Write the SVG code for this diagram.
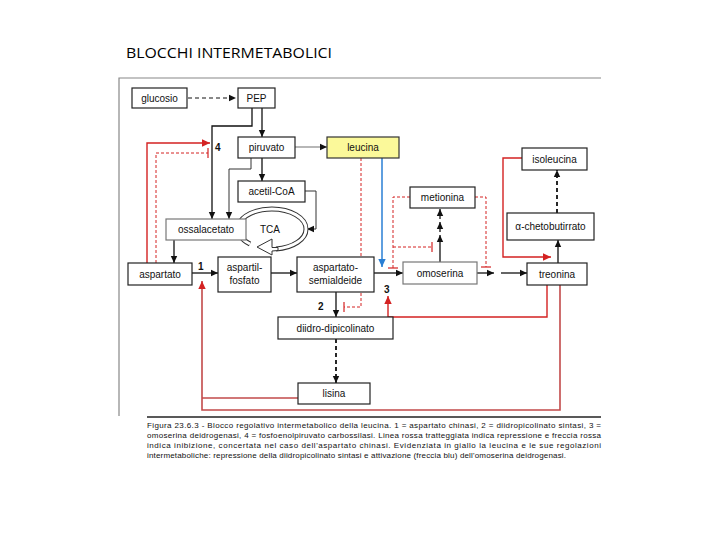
<svg xmlns="http://www.w3.org/2000/svg" width="720" height="540" viewBox="0 0 720 540">
<defs>
<style>
.box{fill:#fff;stroke:#222;stroke-width:1.2}
.gbox{fill:#fff;stroke:#777;stroke-width:1.2}
.t{font-family:"Liberation Sans",Arial,sans-serif;font-size:10px;fill:#111;text-anchor:middle}
.num{font-family:"Liberation Sans",Arial,sans-serif;font-size:10px;font-weight:bold;fill:#111}
.k{fill:none;stroke:#111;stroke-width:1.3}
.kd{fill:none;stroke:#111;stroke-width:1.8;stroke-dasharray:4 3}
.r{fill:none;stroke:#d42222;stroke-width:1.4}
.r2{fill:none;stroke:#c24a4a;stroke-width:1.6}
.rd{fill:none;stroke:#d42222;stroke-width:1;stroke-dasharray:3 2}
.rb{stroke:#d42222;stroke-width:1.2}
.cap{font-family:"Liberation Sans",Arial,sans-serif;font-size:8px;fill:#111}
</style>
<marker id="ak" markerWidth="8" markerHeight="8" refX="7" refY="4" orient="auto" markerUnits="userSpaceOnUse"><path d="M0,0.8 L7,4 L0,7.2 Z" fill="#111"/></marker>
<marker id="ar" markerWidth="9" markerHeight="9" refX="8" refY="4.5" orient="auto" markerUnits="userSpaceOnUse"><path d="M0,0.8 L8,4.5 L0,8.2 Z" fill="#d42222"/></marker>
<marker id="ab" markerWidth="9" markerHeight="9" refX="8" refY="4.5" orient="auto" markerUnits="userSpaceOnUse"><path d="M0,0.8 L8,4.5 L0,8.2 Z" fill="#2a7fd4"/></marker>
</defs>
<rect width="720" height="540" fill="#fff"/>
<text x="126" y="58" font-family="'Open Sans','Liberation Sans',sans-serif" font-size="14" fill="#000" textLength="206" lengthAdjust="spacingAndGlyphs">BLOCCHI INTERMETABOLICI</text>
<path d="M119,416 V78 H601" fill="none" stroke="#888" stroke-width="1.2"/>

<g id="connectors">
<line x1="188" y1="98" x2="236" y2="98" stroke="#111" stroke-width="1" stroke-dasharray="4 3" marker-end="url(#ak)"/>
<line x1="262" y1="108" x2="262" y2="137" class="k" marker-end="url(#ak)"/>
<polyline points="252,108 252,126 212,126 212,219" class="k" stroke-width="1.6" marker-end="url(#ak)"/>
<line x1="262" y1="158" x2="262" y2="181" class="k" marker-end="url(#ak)"/>
<polyline points="251,158 251,169 229,169 229,219" fill="none" stroke="#333" stroke-width="1" marker-end="url(#ak)"/>
<line x1="295" y1="147" x2="327" y2="147" stroke="#888" stroke-width="1.2" marker-end="url(#ak)"/>
<polyline points="305,191 316,191 316,229 307,229" fill="none" stroke="#333" stroke-width="1" marker-end="url(#ak)"/>
<!-- TCA cycle -->
<path id="tca" d="M250,244 A34,20 0 0 1 238.5,225 A34,20 0 0 1 272,209 A34,20 0 0 1 306,229 A34,20 0 0 1 276,249" fill="none" stroke="#333" stroke-width="5"/>
<path d="M250,244 A34,20 0 0 1 238.5,225 A34,20 0 0 1 272,209 A34,20 0 0 1 306,229 A34,20 0 0 1 276,249" fill="none" stroke="#fff" stroke-width="3"/>
<polygon points="272,239 257,247 272,255 272,251 278,250.5 278,247.5 272,247.5" fill="#fff" stroke="#333" stroke-width="1"/>
<line x1="174" y1="240" x2="174" y2="263" class="k" marker-end="url(#ak)"/>
<line x1="192" y1="273" x2="218" y2="273" class="k" marker-end="url(#ak)"/>
<line x1="271" y1="273" x2="297" y2="273" class="k" marker-end="url(#ak)"/>
<line x1="336" y1="292" x2="336" y2="317" class="k" stroke-width="1.6" marker-end="url(#ak)"/>
<line x1="336" y1="339" x2="336" y2="383" class="kd" marker-end="url(#ak)"/>
<line x1="374" y1="273" x2="403" y2="273" class="k" marker-end="url(#ak)"/>
<line x1="440" y1="262" x2="440" y2="235" class="k" marker-end="url(#ak)"/>
<line x1="440" y1="232" x2="440" y2="222" class="k" marker-end="url(#ak)"/>
<line x1="440" y1="219" x2="440" y2="209" class="k" marker-end="url(#ak)"/>
<line x1="477" y1="273" x2="494" y2="273" class="k" marker-end="url(#ak)"/>
<line x1="501" y1="273" x2="527" y2="273" class="k" marker-end="url(#ak)"/>
<line x1="558" y1="263" x2="558" y2="240" class="k" marker-end="url(#ak)"/>
<line x1="557" y1="213" x2="557" y2="170" class="kd" marker-end="url(#ak)"/>
<!-- leucina regulation -->
<line x1="382" y1="158" x2="382" y2="267" stroke="#2a7fd4" stroke-width="1.5" marker-end="url(#ab)"/>
<polyline points="361,158 361,307 344,307" class="rd"/>
<line x1="344" y1="302" x2="344" y2="312" class="rb"/>
<!-- metionina repression -->
<polyline points="410,197 393,197 393,268" class="rd"/>
<line x1="388" y1="268" x2="398" y2="268" class="rb"/>
<polyline points="393,247 432,247" class="rd"/>
<line x1="432" y1="242" x2="432" y2="252" class="rb"/>
<polyline points="475,197 486,197 486,267" class="rd"/>
<line x1="481" y1="267" x2="491" y2="267" class="rb"/>
<!-- isoleucina inhibition -->
<polyline points="522,158 503,158 503,257 551,257" class="r" marker-end="url(#ar)"/>
<!-- treonina inhibition -->
<polyline points="547,285 547,317 388,317 388,296" class="r" stroke-width="1.2" marker-end="url(#ar)"/>
<polyline points="560,285 560,410 202,410 202,281" class="r2" marker-end="url(#ar)"/>
<polyline points="298,398 202,398" class="r2"/>
<!-- aspartato regulation -->
<polyline points="147,263 147,143 210,143" class="r" marker-end="url(#ar)"/>
<polyline points="156,263 156,153 208,153" class="rd"/>
<line x1="208" y1="148" x2="208" y2="158" class="rb"/>
<text x="215" y="150.5" class="num">4</text>
<text x="198" y="269.5" class="num">1</text>
<text x="318" y="310" class="num">2</text>
<text x="384" y="292.5" class="num">3</text>
</g>

<g id="glucosio"><rect x="132" y="88" width="55" height="20" class="box"/><text x="159.5" y="101.5" class="t">glucosio</text></g>
<g id="PEP"><rect x="238" y="88" width="37" height="20" class="box"/><text x="256.5" y="101.5" class="t">PEP</text></g>
<g id="piruvato"><rect x="238" y="137" width="57" height="21" class="box"/><text x="266.5" y="151" class="t">piruvato</text></g>
<g id="leucina"><rect x="327" y="137" width="72" height="21" fill="#fbf99a" stroke="#333" stroke-width="1.2"/><text x="363" y="151" class="t">leucina</text></g>
<g id="acetil-CoA"><rect x="238" y="181" width="67" height="21" class="box"/><text x="271.5" y="195" class="t">acetil-CoA</text></g>
<g id="ossalacetato"><rect x="166" y="219" width="80" height="21" class="gbox"/><text x="206" y="233" class="t">ossalacetato</text></g>
<g id="TCA"><text x="270" y="233" class="t">TCA</text></g>
<g id="isoleucina"><rect x="522" y="148" width="65" height="22" class="box"/><text x="554.5" y="162.5" class="t">isoleucina</text></g>
<g id="metionina"><rect x="410" y="187" width="65" height="21" class="box"/><text x="442.5" y="201" class="t">metionina</text></g>
<g id="chetobutirrato"><rect x="507" y="213" width="87" height="27" class="box"/><text x="550.5" y="230" class="t">α-chetobutirrato</text></g>
<g id="aspartato"><rect x="128" y="263" width="64" height="22" class="box"/><text x="160" y="277.5" class="t">aspartato</text></g>
<g id="aspartil-fosfato"><rect x="218" y="257" width="53" height="35" class="box"/><text x="244.5" y="270.5" class="t">aspartil-</text><text x="244.5" y="283.5" class="t">fosfato</text></g>
<g id="aspartato-semialdeide"><rect x="297" y="257" width="77" height="35" class="box"/><text x="335.5" y="270.5" class="t">aspartato-</text><text x="335.5" y="283.5" class="t">semialdeide</text></g>
<g id="omoserina"><rect x="403" y="262" width="74" height="22" class="gbox"/><text x="440" y="276.5" class="t">omoserina</text></g>
<g id="treonina"><rect x="527" y="263" width="60" height="22" class="box"/><text x="557" y="277.5" class="t">treonina</text></g>
<g id="diidro-dipicolinato"><rect x="278" y="317" width="115" height="22" class="box"/><text x="335.5" y="331.5" class="t">diidro-dipicolinato</text></g>
<g id="lisina"><rect x="298" y="383" width="72" height="21" class="box"/><text x="334" y="397" class="t">lisina</text></g>

<g id="caption">
<line x1="147" y1="417" x2="601" y2="417" stroke="#222" stroke-width="1.5"/>
<text x="147" y="428" class="cap" textLength="454" lengthAdjust="spacing">Figura 23.6.3 - Blocco regolativo intermetabolico della leucina. 1 = aspartato chinasi, 2 = diidropicolinato sintasi, 3 =</text>
<text x="147" y="438" class="cap" textLength="454" lengthAdjust="spacing">omoserina deidrogenasi, 4 = fosfoenolpiruvato carbossilasi. Linea rossa tratteggiata indica repressione e freccia rossa</text>
<text x="147" y="448" class="cap" textLength="454" lengthAdjust="spacing">indica inibizione, concertata nel caso dell'aspartato chinasi. Evidenziata in giallo la leucina e le sue regolazioni</text>
<text x="147" y="458" class="cap" textLength="419" lengthAdjust="spacing">intermetaboliche: repressione della diidropicolinato sintasi e attivazione (freccia blu) dell'omoserina deidrogenasi.</text>
</g>
</svg>
